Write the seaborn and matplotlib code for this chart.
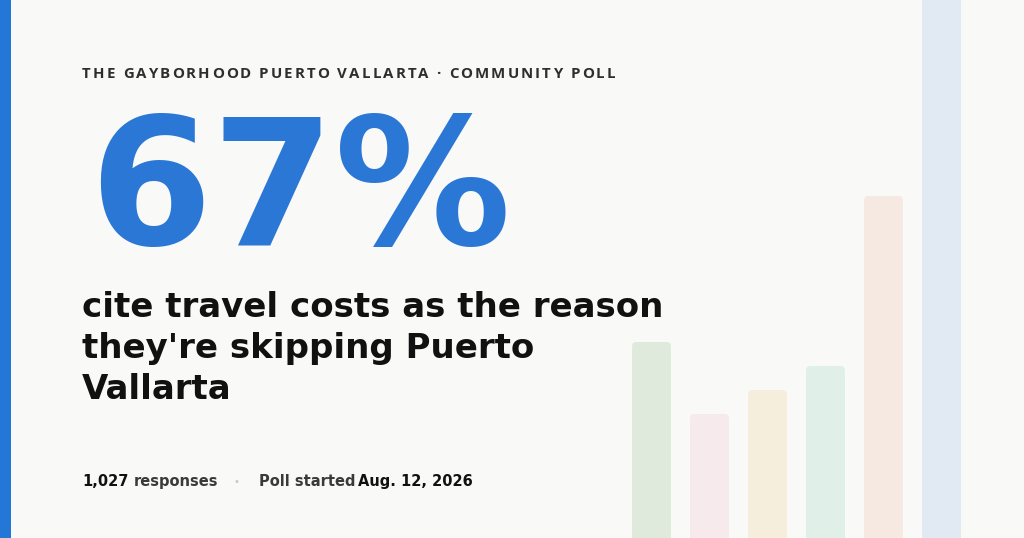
import matplotlib
matplotlib.use("Agg")
import matplotlib.pyplot as plt
import seaborn as sns
import pandas as pd
from matplotlib.patches import Rectangle, FancyBboxPatch
from matplotlib.font_manager import FontProperties

# faded background bars (share per reason, last one = travel costs)
bar_labels = ["a", "b", "c", "d", "e", "travel costs"]
bar_values = [19.6, 12.4, 14.8, 17.2, 34.2, 67]
bar_colors = ["#dfeadd", "#f6eaec", "#f6eedd", "#e0efe8", "#f6e9e1", "#e1eaf3"]

kicker = "THE GAYBORHOOD PUERTO VALLARTA · COMMUNITY POLL"
big_stat = "67%"
headline = ["cite travel costs as the reason", "they're skipping Puerto", "Vallarta"]
responses = "1,027"
start_date = "Aug. 12, 2026"

W, H = 1024, 538
BG = "#f9f9f7"
BLUE = "#2a77d6"

sns.set_theme(style="white")
plt.rcParams["font.family"] = ["DejaVu Sans"]


def dv_bold(size):
    return FontProperties(family="DejaVu Sans", weight="bold", size=size)


fig = plt.figure(figsize=(W / 100, H / 100), dpi=100)
fig.patch.set_facecolor(BG)


def fx(px):
    return px / W


def fy(py):
    return 1 - py / H


# bars live in their own axes: 58px per category, 10px per unit
ax = fig.add_axes([fx(622.5), 0, fx(348), 1])
ax.set_facecolor("none")
df = pd.DataFrame({"label": bar_labels, "value": bar_values})
sns.barplot(data=df, x="label", y="value", hue="label", palette=bar_colors,
            width=0.67, legend=False, ax=ax, saturation=1)
ax.set_xlim(-0.5, 5.5)
ax.set_ylim(0, H / 10)
ax.axis("off")

# swap plain rectangles for rounded-top ones
for p in list(ax.patches):
    x, y = p.get_x(), p.get_y()
    w, h = p.get_width(), p.get_height()
    c = p.get_facecolor()
    p.remove()
    ax.add_patch(FancyBboxPatch((x, y - 2), w, h + 2,
                                boxstyle="round,pad=0,rounding_size=0.075",
                                mutation_aspect=5.8, facecolor=c,
                                edgecolor="none"))

# left accent stripe
fig.patches.append(Rectangle((0, 0), fx(11), 1, transform=fig.transFigure,
                             facecolor="#2577d7", edgecolor="none"))

# kicker with letter spacing, stretched to span 82..615 px
renderer = fig.canvas.get_renderer()
kprop = FontProperties(family=["Open Sans", "DejaVu Sans"], weight="bold", size=10.8)
widths = [renderer.get_text_width_height_descent(ch, kprop, ismath=False)[0]
          for ch in kicker]
track = (615 - 82 - sum(widths)) / (len(kicker) - 1)
xpos = 82
for ch, w in zip(kicker, widths):
    fig.text(fx(xpos), fy(78), ch, fontproperties=kprop, color="#2e2e2e",
             va="baseline", ha="left")
    xpos += w + track

fig.text(fx(89), fy(245), big_stat, fontproperties=dv_bold(127),
         color=BLUE, va="baseline", ha="left")

for i, line in enumerate(headline):
    fig.text(fx(82), fy(317 + 41 * i), line, fontproperties=dv_bold(24.5),
             color="#111111", va="baseline", ha="left")

fig.text(fx(82), fy(486), responses, fontproperties=dv_bold(10.5),
         color="#111111", va="baseline")
fig.text(fx(134), fy(486), "responses", fontproperties=dv_bold(10.5),
         color="#3a3a3a", va="baseline")
fig.text(fx(236.5), fy(482), "•", fontsize=7, color="#c8c8c8",
         va="center", ha="center")
fig.text(fx(259), fy(486), "Poll started", fontproperties=dv_bold(10.5),
         color="#3a3a3a", va="baseline")
fig.text(fx(358), fy(486), start_date, fontproperties=dv_bold(10.5),
         color="#111111", va="baseline")

fig.savefig("out.png", dpi=100, facecolor=BG)
